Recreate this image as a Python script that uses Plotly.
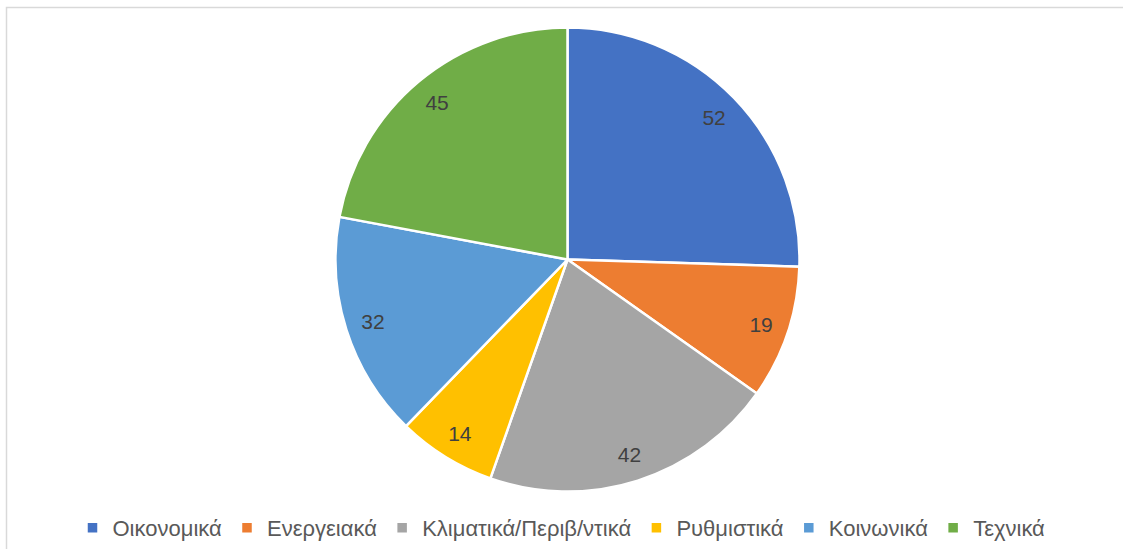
import plotly.graph_objects as go

categories = ["Οικονομικά", "Ενεργειακά", "Κλιματικά/Περιβ/ντικά", "Ρυθμιστικά", "Κοινωνικά", "Τεχνικά"]
values = [52, 19, 42, 14, 32, 45]
colors = ["#4472C4", "#ED7D31", "#A5A5A5", "#FFC000", "#5B9BD5", "#70AD47"]

W, H = 1123, 549
cx, cy, r = 567.5, 259.5, 232
dom = dict(x=[(cx - r) / W, (cx + r) / W], y=[(H - cy - r) / H, (H - cy + r) / H])
font_family = "Liberation Sans, Arial, sans-serif"

# main pie
fig = go.Figure(go.Pie(
    labels=categories,
    values=values,
    sort=False,
    direction="clockwise",
    rotation=0,
    marker=dict(colors=colors, line=dict(color="white", width=2.5)),
    textinfo="none",
    domain=dom,
    hoverinfo="label+value",
))

# transparent ring used only to place the value labels near the rim
fig.add_trace(go.Pie(
    labels=categories,
    values=values,
    sort=False,
    direction="clockwise",
    rotation=0,
    hole=0.76,
    marker=dict(colors=["rgba(0,0,0,0)"] * len(values), line=dict(width=0)),
    textinfo="value",
    textposition="inside",
    insidetextorientation="horizontal",
    textfont=dict(family=font_family, size=21, color="#404040"),
    domain=dom,
    showlegend=False,
    hoverinfo="skip",
))

fig.update_layout(
    width=W, height=H,
    margin=dict(l=0, r=0, t=0, b=0),
    paper_bgcolor="white",
    plot_bgcolor="white",
    showlegend=True,
    legend=dict(
        orientation="h",
        x=0.5, xanchor="center",
        y=(H - 528) / H, yanchor="middle",
        font=dict(family=font_family, size=22, color="#595959"),
        itemwidth=30,
        tracegroupgap=0,
    ),
    shapes=[dict(type="rect", xref="paper", yref="paper",
                 x0=6.5 / W, x1=1.01, y0=-0.01, y1=(H - 7.5) / H,
                 line=dict(color="#D9D9D9", width=1.5), fillcolor="rgba(0,0,0,0)", layer="below")],
)

fig.write_html("out.html", config={"displayModeBar": False},
               post_script="document.body.style.margin='0px';")
